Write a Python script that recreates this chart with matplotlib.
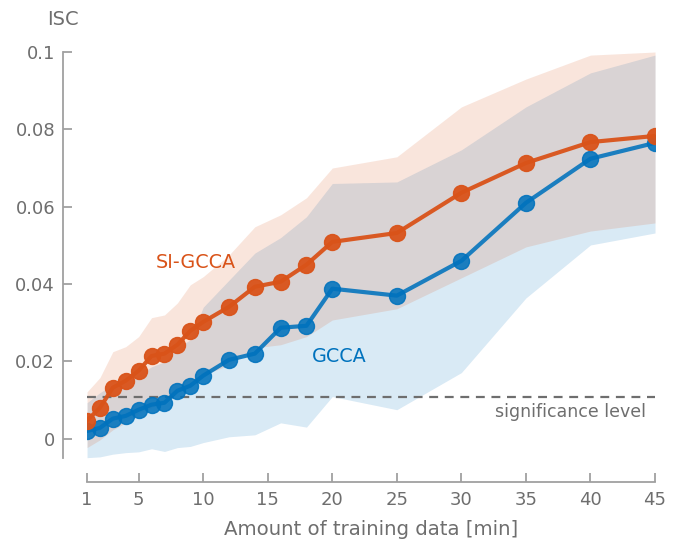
import numpy as np
import matplotlib
matplotlib.use("Agg")
import matplotlib.pyplot as plt

# ------------------------------------------------------------------
# data
minutes = [1, 2, 3, 4, 5, 6, 7, 8, 9, 10, 12, 14, 16, 18, 20, 25, 30, 35, 40, 45]

si_gcca = [0.0047, 0.0080, 0.0132, 0.0150, 0.0176, 0.0214, 0.0220, 0.0243, 0.0279, 0.0302,
           0.0341, 0.0393, 0.0406, 0.0450, 0.0509, 0.0532, 0.0636, 0.0713, 0.0767, 0.0783]
si_gcca_hi = [0.0121, 0.0158, 0.0225, 0.0238, 0.0264, 0.0313, 0.0320, 0.0351, 0.0398, 0.0419,
              0.0475, 0.0548, 0.0579, 0.0623, 0.0700, 0.0729, 0.0858, 0.0930, 0.0992, 0.1000]
si_gcca_lo = [-0.0023, -0.0003, 0.0023, 0.0041, 0.0067, 0.0080, 0.0101, 0.0119, 0.0137, 0.0165,
              0.0190, 0.0235, 0.0243, 0.0264, 0.0307, 0.0336, 0.0416, 0.0496, 0.0537, 0.0558]

gcca = [0.0020, 0.0028, 0.0052, 0.0059, 0.0075, 0.0088, 0.0093, 0.0124, 0.0137, 0.0163,
        0.0204, 0.0220, 0.0287, 0.0292, 0.0388, 0.0370, 0.0460, 0.0610, 0.0724, 0.0765]
gcca_hi = [0.0093, 0.0119, 0.0140, 0.0147, 0.0165, 0.0186, 0.0199, 0.0235, 0.0256, 0.0340,
           0.0410, 0.0480, 0.0520, 0.0574, 0.0660, 0.0664, 0.0747, 0.0858, 0.0946, 0.0992]
gcca_lo = [-0.0049, -0.0047, -0.0040, -0.0036, -0.0034, -0.0026, -0.0033, -0.0023, -0.0020, -0.0010,
           0.0005, 0.0010, 0.0041, 0.0030, 0.0109, 0.0075, 0.0171, 0.0364, 0.0501, 0.0532]

sig_level = 0.0109

xticks = [1, 5, 10, 15, 20, 25, 30, 35, 40, 45]
yticks = [0, 0.02, 0.04, 0.06, 0.08, 0.1]
ytick_labels = ["0", "0.02", "0.04", "0.06", "0.08", "0.1"]

ORANGE = "#D95319"
BLUE = "#0072BD"
GREY = "#6e6e6e"

# ------------------------------------------------------------------
plt.rcParams["font.family"] = ["DejaVu Sans"]

fig = plt.figure(figsize=(6.89, 5.44), dpi=100)
ax = fig.add_axes([0.1263, 0.158, 0.8244, 0.7464])

ax.fill_between(minutes, gcca_lo, gcca_hi, color=BLUE, alpha=0.15, lw=0)
ax.fill_between(minutes, si_gcca_lo, si_gcca_hi, color=ORANGE, alpha=0.15, lw=0)

ax.plot([minutes[0], minutes[-1]], [sig_level, sig_level], ls=(0, (4, 3)), color=GREY, lw=1.6)

ax.plot(minutes, gcca, "-o", color=BLUE, lw=3, ms=11.5, alpha=0.88)
ax.plot(minutes, si_gcca, "-o", color=ORANGE, lw=3, ms=11.5, alpha=0.95)

ax.text(9.4, 0.0455, "SI-GCCA", color=ORANGE, fontsize=13.8, ha="center", va="center")
ax.text(20.5, 0.0212, "GCCA", color=BLUE, fontsize=13.8, ha="center", va="center")
ax.text(44.3, 0.0068, "significance level", color=GREY, fontsize=12.5, ha="right", va="center")

ax.set_xlim(1, 45)
ax.set_ylim(-0.005, 0.1)
ax.set_xticks(xticks)
ax.set_yticks(yticks)
ax.set_yticklabels(ytick_labels)

for side in ("top", "right"):
    ax.spines[side].set_visible(False)
for side in ("left", "bottom"):
    ax.spines[side].set_position(("outward", 17))
    ax.spines[side].set_color("#a0a0a0")
    ax.spines[side].set_linewidth(1.3)
ax.tick_params(direction="in", length=6.5, width=1.3, color="#a0a0a0",
               labelcolor=GREY, labelsize=13)
ax.tick_params(axis="x", pad=7)
ax.tick_params(axis="y", pad=6)

ax.set_xlabel("Amount of training data [min]", color=GREY, fontsize=14.2, labelpad=8)
fig.text(0.068, 0.965, "ISC", color=GREY, fontsize=14, ha="left", va="center")

fig.savefig("out.png", dpi=100)
